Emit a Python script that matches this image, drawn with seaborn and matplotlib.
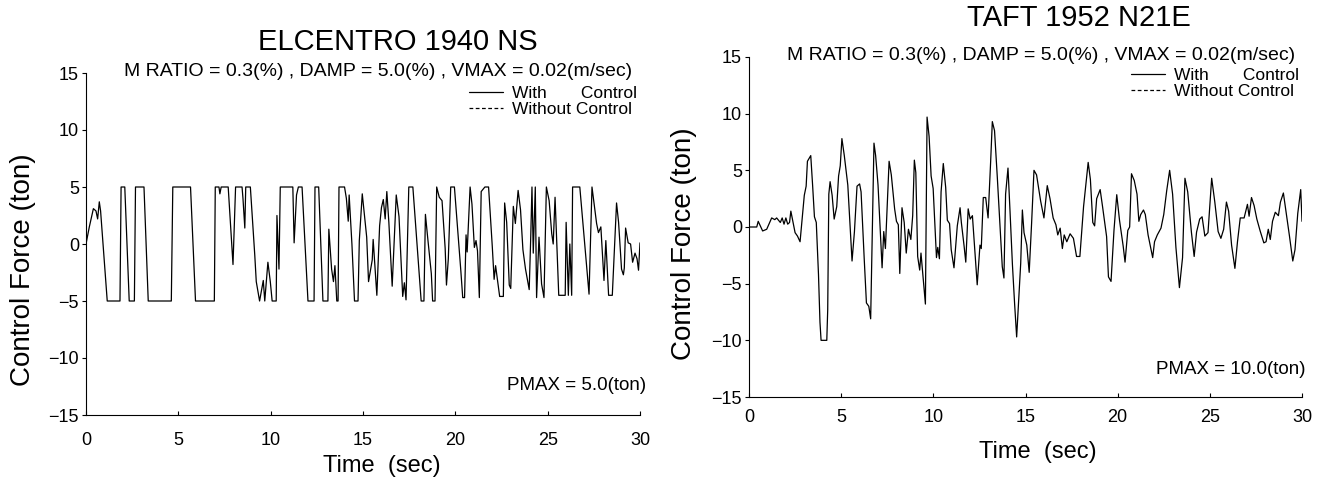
import pandas as pd
import seaborn as sns
import matplotlib.pyplot as plt
from matplotlib.lines import Line2D

# El Centro 1940 NS - control force (ton)
elcentro_time = [0.0, 0.18, 0.4, 0.54, 0.63, 0.72, 0.79, 1.15, 1.84, 1.9, 2.1, 2.34, 2.62, 2.68,
                 3.14, 3.37, 4.62, 4.7, 5.66, 5.93, 6.95, 7.0, 7.2, 7.25, 7.32, 7.7, 7.96, 8.1,
                 8.45, 8.5, 8.6, 8.65, 8.9, 9.04, 9.14, 9.22, 9.4, 9.6, 9.68, 9.85, 9.98, 10.08,
                 10.3, 10.34, 10.45, 10.52, 11.2, 11.27, 11.4, 11.5, 11.7, 12.02, 12.35, 12.4,
                 12.6, 12.83, 13.1, 13.15, 13.3, 13.4, 13.48, 13.58, 13.65, 13.7, 14.0, 14.1,
                 14.2, 14.25, 14.4, 14.54, 14.73, 14.8, 14.96, 15.2, 15.3, 15.5, 15.55, 15.75,
                 15.9, 16.0, 16.1, 16.2, 16.29, 16.4, 16.58, 16.8, 16.95, 17.15, 17.24, 17.33,
                 17.48, 17.7, 18.15, 18.3, 18.38, 18.5, 18.7, 18.77, 18.9, 18.99, 19.13, 19.28,
                 19.45, 19.52, 19.62, 19.75, 19.95, 20.3, 20.4, 20.5, 20.58, 20.64, 20.8, 20.9,
                 21.03, 21.12, 21.2, 21.3, 21.4, 21.6, 21.8, 22.0, 22.1, 22.18, 22.4, 22.6,
                 22.67, 22.78, 22.92, 23.0, 23.14, 23.25, 23.4, 23.53, 23.66, 23.8, 24.0, 24.08,
                 24.15, 24.22, 24.33, 24.4, 24.53, 24.67, 24.8, 24.93, 25.08, 25.22, 25.3, 25.4,
                 25.6, 25.95, 26.0, 26.12, 26.2, 26.3, 26.35, 26.74, 27.24, 27.4, 27.65, 27.75,
                 27.88, 28.05, 28.15, 28.3, 28.5, 28.73, 28.84, 29.0, 29.1, 29.15, 29.22, 29.36,
                 29.49, 29.6, 29.73, 29.84, 29.92, 30.0]
elcentro_force = [0.0, 1.5, 3.1, 2.9, 2.2, 3.7, 2.9, -5.0, -5.0, 5.0, 5.0, -5.0, -5.0, 5.0,
                  5.0, -5.0, -5.0, 5.0, 5.0, -5.0, -5.0, 5.0, 5.0, 4.4, 5.0, 5.0, -1.8, 5.0,
                  5.0, 4.0, 1.4, 5.0, 5.0, 1.5, -1.0, -3.3, -5.0, -3.2, -5.0, -1.6, -3.3, -5.0,
                  -5.0, 2.5, -2.2, 5.0, 5.0, 0.1, 4.3, 5.0, 5.0, -5.0, -5.0, 5.0,
                  5.0, -5.0, -5.0, 1.3, -2.2, -3.3, -1.9, -5.0, -5.0, 5.0, 5.0, 4.0,
                  2.0, 4.3, 0.0, -5.0, -5.0, 0.3, 4.4, 0.6, -3.3, -1.4, 0.4, -4.5,
                  1.6, 3.2, 3.9, 2.2, 4.6, 1.9, -3.7, 4.3, 2.4, -4.6, -3.4, -4.9,
                  5.0, 5.0, -5.0, -5.0, 2.6, 0.6, -2.6, -5.0, -5.0, 5.0, 4.1, 3.8,
                  -0.4, -3.6, -1.3, 5.0, 5.0, -2.4, -4.7, -4.7, 0.8, -0.7, 5.0, 3.5,
                  -0.3, 0.3, -0.6, -4.7, 4.6, 5.0, 5.0, -0.2, -3.1, -1.9, -4.6, -4.6,
                  3.6, 1.9, -3.6, -3.9, 3.3, 1.8, 4.7, 3.0, -0.5, -2.2, -4.0, 0.4,
                  5.0, -0.8, 5.0, -4.7, 0.6, -3.5, -4.7, 5.0, 3.8, 0.9, 0.0, 4.1,
                  -4.5, -4.5, 1.9, -4.5, 0.0, -4.5, 5.0, 5.0, -4.4, 5.0, 1.8, 1.0,
                  1.5, -3.2, 0.3, -4.5, -4.5, 3.6, 1.9, -2.2, -2.7, -2.1, 1.4, 0.1,
                  0.0, -1.6, -0.8, -1.3, -2.3, 0.1]

# Taft 1952 N21E - control force (ton)
taft_time = [0.0, 0.42, 0.5, 0.74, 0.96, 1.23, 1.4, 1.5, 1.7, 1.8, 1.9, 2.0, 2.1, 2.2, 2.27, 2.38,
             2.5, 2.63, 2.77, 3.0, 3.1, 3.17, 3.35, 3.45, 3.55, 3.65, 3.77, 3.85, 3.91, 4.22,
             4.27, 4.33, 4.4, 4.51, 4.62, 4.76, 4.86, 4.95, 5.04, 5.17, 5.36, 5.5, 5.59, 5.72,
             5.86, 6.0, 6.08, 6.25, 6.37, 6.5, 6.6, 6.78, 6.87, 7.0, 7.15, 7.22, 7.31, 7.4,
             7.49, 7.6, 7.72, 7.9, 8.0, 8.1, 8.18, 8.3, 8.42, 8.53, 8.65, 8.78, 8.88, 8.97,
             9.05, 9.15, 9.26, 9.33, 9.44, 9.57, 9.66, 9.77, 9.88, 9.99, 10.17, 10.24, 10.33,
             10.42, 10.54, 10.67, 10.76, 10.88, 10.97, 11.12, 11.3, 11.45, 11.52, 11.67, 11.76,
             11.89, 12.0, 12.12, 12.38, 12.53, 12.6, 12.71, 12.84, 12.97, 13.11, 13.2, 13.32,
             13.47, 13.61, 13.74, 13.83, 13.92, 14.05, 14.16, 14.29, 14.41, 14.52, 14.65,
             14.74, 14.83, 14.92, 15.07, 15.2, 15.33, 15.46, 15.6, 15.82, 16.0, 16.18, 16.33,
             16.5, 16.65, 16.75, 16.88, 17.0, 17.1, 17.24, 17.42, 17.6, 17.77, 17.95, 18.15,
             18.4, 18.52, 18.65, 18.75, 18.86, 19.05, 19.18, 19.4, 19.5, 19.64, 19.8, 19.95,
             20.1, 20.3, 20.4, 20.55, 20.65, 20.75, 20.9, 21.05, 21.15, 21.25, 21.4, 21.5,
             21.65, 21.9, 22.0, 22.15, 22.35, 22.5, 22.66, 22.82, 22.98, 23.16, 23.35, 23.52,
             23.65, 23.8, 24.0, 24.15, 24.28, 24.45, 24.58, 24.73, 24.9, 25.1, 25.27, 25.45,
             25.6, 25.75, 25.9, 26.02, 26.18, 26.36, 26.5, 26.65, 26.86, 27.04, 27.13, 27.26,
             27.4, 27.55, 27.73, 27.93, 28.05, 28.17, 28.28, 28.4, 28.55, 28.72, 28.83, 28.99,
             29.14, 29.32, 29.5, 29.62, 29.77, 29.93, 30.0]
taft_force = [0.0, 0.0, 0.5, -0.35, -0.2, 0.8, 0.65, 0.8, 0.4, 0.8, 0.25, 0.8, 0.25, 0.4, 1.4, 0.5,
              -0.5, -0.8, -1.3, 2.8, 3.6, 5.8, 6.3, 3.7, 0.9, 0.4, -4.2, -8.4, -10.0, -10.0,
              -7.3, 2.9, 4.0, 2.8, 0.7, 1.8, 4.5, 5.4, 7.8, 6.3, 3.7, -0.4, -3.0, -0.4,
              3.6, 3.8, 3.1, -2.8, -6.7, -7.0, -8.1, 7.4, 6.3, 3.7, -1.3, -3.6, -0.4, -1.9,
              1.6, 5.8, 4.6, 1.6, 0.5, 0.2, -4.1, 1.7, 0.4, -2.3, -0.2, -1.1, 1.0, 5.9,
              4.8, -2.6, -3.8, -2.3, -4.4, -6.8, 9.7, 8.0, 4.5, 3.4, -2.7, -1.8, -2.8,
              3.1, 5.6, 3.5, 0.6, 0.3, -2.0, -3.6, 0.1, 1.7, 0.4, -1.7, -3.1,
              1.6, 0.7, 1.0, -5.1, -1.6, -1.9, 2.6, 2.6, 0.8, 5.8, 9.3, 8.5,
              4.4, 0.3, -3.5, -4.5, 2.9, 5.2, 1.4, -3.3, -6.8, -9.7, -5.9,
              -3.2, 1.5, -0.5, -1.6, -4.0, 0.3, 5.0, 4.6, 2.3, 0.8, 3.65, 2.5,
              0.8, 0.2, -0.7, -0.1, -1.9, -0.7, -1.3, -0.6, -1.0, -2.6, -2.6, 1.8,
              5.7, 4.2, 0.4, 0.1, 2.5, 3.3, 1.8, -0.85, -4.4, -4.8, -0.3, 2.85,
              0.6, -1.7, -3.1, -0.3, 0.0, 4.7, 4.1, 2.9, 0.5, 1.1, 1.5, 1.1,
              -0.7, -2.7, -1.3, -0.7, -0.1, 1.1, 3.2, 5.0, 2.9, -1.8, -5.35, -2.7,
              4.3, 3.1, -0.45, -2.6, -0.45, 0.7, 0.9, -0.8, -0.5, 4.3, 2.2, -0.4,
              -1.0, -0.2, 2.2, 1.4, -1.6, -3.65, -1.3, 0.8, 0.8, 2.0, 0.95, 2.6,
              1.9, 0.7, -0.35, -1.4, -1.3, -0.2, -1.1, 0.5, 1.3, 1.0, 2.2, 3.0,
              1.3, -0.8, -3.0, -2.0, 1.2, 3.3, 0.5]

subtitle = 'M RATIO = 0.3(%) , DAMP = 5.0(%) , VMAX = 0.02(m/sec)'
legend_labels = ['With       Control', 'Without Control']
xticks = [0, 5, 10, 15, 20, 25, 30]
yticks = [-15, -10, -5, 0, 5, 10, 15]

sns.set_theme(style='ticks')
plt.rcParams['font.family'] = ['Liberation Sans', 'DejaVu Sans']
plt.rcParams['text.color'] = 'black'
plt.rcParams['axes.labelcolor'] = 'black'

W, H = 1325, 482
fig = plt.figure(figsize=(W / 100, H / 100), dpi=100)

# pixel positions measured on the reference scan
panels = [
    dict(t=elcentro_time, f=elcentro_force, box=(86, 73, 640, 415), title='ELCENTRO 1940 NS',
         title_xy=(398, 42), sub_xy=(378, 72), leg_xy=(637, 86), pmax='PMAX = 5.0(ton)',
         pmax_xy=(646, 385), xlab_xy=(382, 455), ylab_xy=(36, 270), xpad=12),
    dict(t=taft_time, f=taft_force, box=(749, 57, 1302, 397), title='TAFT 1952 N21E',
         title_xy=(1079, 18), sub_xy=(1041, 55), leg_xy=(1299, 68), pmax='PMAX = 10.0(ton)',
         pmax_xy=(1305, 369), xlab_xy=(1038, 441), ylab_xy=(697, 244), xpad=9),
]

for p in panels:
    x0, y0, x1, y1 = p['box']
    bw, bh = x1 - x0, y1 - y0
    ax = fig.add_axes([x0 / W, 1 - y1 / H, bw / W, bh / H])
    df = pd.DataFrame({'Time': p['t'], 'Force': p['f']})
    sns.lineplot(data=df, x='Time', y='Force', ax=ax, color='black', linewidth=0.9,
                 estimator=None, sort=False)
    ax.set_xlim(0, 30)
    ax.set_ylim(-15, 15)
    ax.set_xticks(xticks)
    ax.set_yticks(yticks)
    sns.despine(ax=ax)
    for s in ['left', 'bottom']:
        ax.spines[s].set_linewidth(0.8)
        ax.spines[s].set_color('black')
    ax.tick_params(axis='x', direction='in', length=3, width=0.8, pad=p['xpad'],
                   labelsize=13, colors='black')
    ax.tick_params(axis='y', direction='out', length=3, width=0.8, pad=2,
                   labelsize=13, colors='black')

    ax.set_xlabel('Time  (sec)', fontsize=17)
    ax.set_ylabel('Control Force (ton)', fontsize=20)
    ax.xaxis.set_label_coords((p['xlab_xy'][0] - x0) / bw, (y1 - p['xlab_xy'][1]) / bh)
    ax.yaxis.set_label_coords((p['ylab_xy'][0] - x0) / bw, (y1 - p['ylab_xy'][1]) / bh)

    ax.text((p['pmax_xy'][0] - x0) / bw, (y1 - p['pmax_xy'][1]) / bh, p['pmax'],
            transform=ax.transAxes, ha='right', va='center', fontsize=13.5)

    fig.text(p['title_xy'][0] / W, 1 - p['title_xy'][1] / H, p['title'],
             ha='center', va='center', fontsize=21)
    fig.text(p['sub_xy'][0] / W, 1 - p['sub_xy'][1] / H, subtitle,
             ha='center', va='center', fontsize=14)

    handles = [Line2D([], [], color='black', lw=0.9, ls='-'),
               Line2D([], [], color='black', lw=0.9, ls=(0, (3, 2)))]
    ax.legend(handles, legend_labels, loc='upper right', frameon=False, fontsize=12.5,
              bbox_to_anchor=(p['leg_xy'][0] / W, 1 - p['leg_xy'][1] / H),
              bbox_transform=fig.transFigure, borderaxespad=0, borderpad=0,
              handlelength=2.0, handletextpad=0.5, labelspacing=0.05)

fig.savefig('out.png', dpi=100, facecolor='white')
